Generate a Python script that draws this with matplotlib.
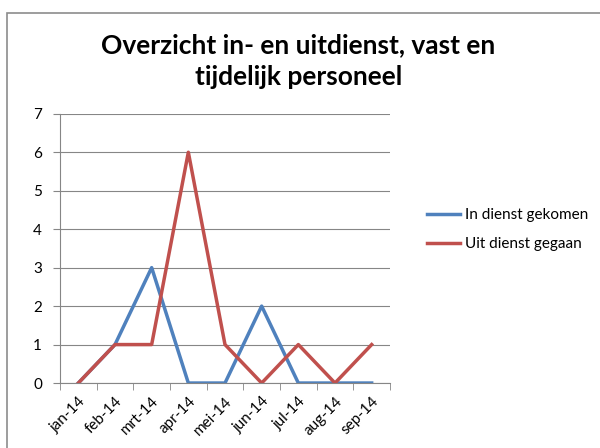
import matplotlib
matplotlib.use("Agg")
from matplotlib import pyplot as plt
from matplotlib.patches import Rectangle
import numpy as np

months = ["jan-14", "feb-14", "mrt-14", "apr-14", "mei-14", "jun-14", "jul-14", "aug-14", "sep-14"]
in_dienst = [0, 1, 3, 0, 0, 2, 0, 0, 0]
uit_dienst = [0, 1, 1, 6, 1, 0, 1, 0, 1]

plt.rcParams['font.family'] = ['Lato', 'DejaVu Sans']

fig = plt.figure(figsize=(6, 4.48), dpi=100)
fig.patches.append(Rectangle((7 / 600, -0.05), 1.0, 1 - 13 / 448 + 0.05, transform=fig.transFigure,
                             fill=False, edgecolor='#8c8c8c', linewidth=1.2))
ax = fig.add_axes([0.1, 0.145, 0.55, 0.601])

x = np.arange(len(months))
ax.plot(x, in_dienst, color='#4F81BD', linewidth=2.5, label='In dienst gekomen')
ax.plot(x, uit_dienst, color='#C0504D', linewidth=2.5, label='Uit dienst gegaan')

ax.set_xlim(-0.5, len(months) - 0.5)
ax.set_ylim(0, 7)
ax.set_yticks(range(0, 8))
ax.set_xticks(x)
ax.set_xticklabels(months, rotation=45, ha='right', rotation_mode='anchor', fontsize=11)
ax.set_xticks(np.arange(-0.5, len(months)), minor=True)
ax.tick_params(axis='x', which='major', length=0, pad=8)
ax.tick_params(axis='x', which='minor', length=5, color='#868686', direction='out')
ax.tick_params(axis='y', length=5, color='#868686', labelsize=11, pad=8)
ax.grid(True, axis='y', color='#868686', linewidth=0.8)
ax.set_axisbelow(True)
for side in ['top', 'right']:
    ax.spines[side].set_visible(False)
for side in ['left', 'bottom']:
    ax.spines[side].set_color('#868686')

fig.text(0.497, 0.863, "Overzicht in- en uitdienst, vast en\ntijdelijk personeel", ha='center', va='center',
         fontsize=19, fontweight='bold', linespacing=1.4)

ax.legend(loc='center left', bbox_to_anchor=(1.07, 0.57), frameon=False, fontsize=11,
          handlelength=2.2, handletextpad=0.3, labelspacing=1.0)

fig.savefig("out.png", dpi=100)
